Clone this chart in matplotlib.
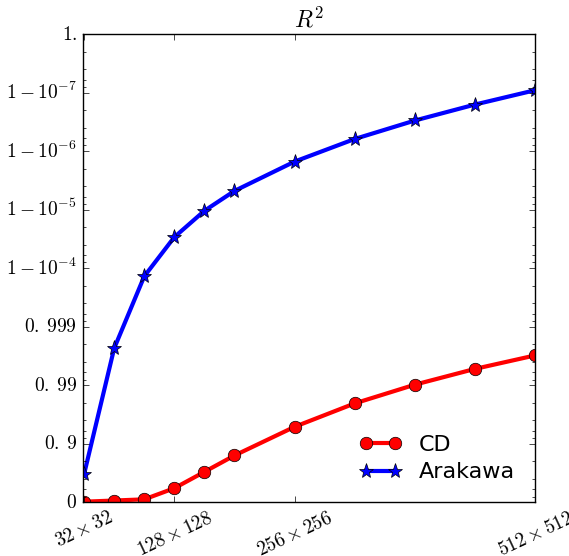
import matplotlib
matplotlib.use("Agg")
import matplotlib.pyplot as plt
import numpy as np

# grid sizes (N x N) and R^2 values
N        = [32, 64, 96, 128, 160, 192, 256, 320, 384, 448, 512]
CD       = [0.023, 0.067, 0.109, 0.425, 0.698, 0.8415, 0.9487,
            0.9796, 0.99023, 0.99475, 0.99691]
Arakawa  = [0.669, 0.997656, 0.999862, 0.9999705, 0.99998953,
            0.99999521, 0.99999849, 0.99999938, 0.99999970,
            0.99999984, 0.999999909]

xTicks      = [32, 128, 256, 512]
xTickLabels = [r"$%d\times%d$" % (n, n) for n in xTicks]

yTicks      = [0.0, 0.9, 0.99, 0.999, 1 - 1e-4, 1 - 1e-5, 1 - 1e-6, 1 - 1e-7, 1 - 1e-8]
yTickLabels = ["$0$", r"$0.\:9$", r"$0.\:99$", r"$0.\:999$",
               "$1-10^{-4}$", "$1-10^{-5}$", "$1-10^{-6}$", "$1-10^{-7}$", "$1.$"]

def forward( p ):
    return -np.log10( np.clip( 1.0 - np.asarray( p, dtype=float ), 1e-15, None ) )

def inverse( v ):
    return 1.0 - 10.0 ** ( -np.asarray( v, dtype=float ) )

plt.style.use( "classic" )
plt.rcParams["figure.facecolor"]  = "white"
plt.rcParams["savefig.facecolor"] = "white"
plt.rcParams["mathtext.fontset"]  = "cm"

fig = plt.figure( figsize=(5.69, 5.56), dpi=100 )
ax  = fig.add_axes( [0.1453, 0.0966, 0.7955, 0.8422] )

ax.set_yscale( "function", functions=(forward, inverse) )

ax.plot( N, CD, color="red", linewidth=3, marker="o", markersize=9,
         markerfacecolor="red", markeredgecolor="black", label="CD" )
ax.plot( N, Arakawa, color="blue", linewidth=3, marker="*", markersize=11,
         markerfacecolor="blue", markeredgecolor="black", label="Arakawa" )

ax.set_xlim( 30.5, 512 )
ax.set_ylim( 0.0, 1 - 1e-8 )

ax.set_xticks( xTicks )
ax.set_xticklabels( xTickLabels, rotation=25, ha="center", fontsize=14 )
ax.set_yticks( yTicks )
ax.set_yticklabels( yTickLabels, fontsize=14 )

minor = [1 - c * 10.0 ** ( -(k + 1) ) for k in range( 8 ) for c in (2, 4, 6, 8)]
ax.set_yticks( minor, minor=True )
ax.xaxis.set_minor_locator( matplotlib.ticker.NullLocator() )

ax.tick_params( which="both", direction="in", top=True, right=True )
ax.tick_params( which="major", length=4 )
ax.tick_params( which="minor", length=2 )

ax.set_title( "$R^2$", fontsize=17 )

ax.legend( loc="lower right", frameon=False, fontsize=16, numpoints=2,
           handlelength=1.9, borderaxespad=0.5, labelspacing=0.35 )

fig.savefig( "out.png", dpi=100 )
